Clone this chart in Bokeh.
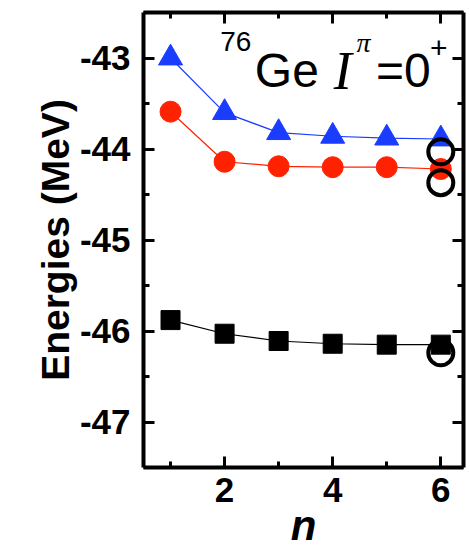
from bokeh.plotting import figure
from bokeh.models import Range1d, LinearAxis, Label, FixedTicker, CustomLabelingPolicy
from bokeh.embed import file_html
from bokeh.resources import INLINE

# ---- data ----
n = [1, 2, 3, 4, 5, 6]
blue_tri = [-43.00, -43.60, -43.82, -43.86, -43.88, -43.89]
red_circ = [-43.59, -44.14, -44.19, -44.20, -44.20, -44.22]
black_sq = [-45.88, -46.03, -46.11, -46.14, -46.15, -46.15]
exact_n = [6, 6, 6]
exact_e = [-44.03, -44.37, -46.24]

x_major = [2, 4, 6]
x_minor = [1, 3, 5]
y_major = [-47, -46, -45, -44, -43]
y_minor = [-47.5, -46.5, -45.5, -44.5, -43.5, -42.5]

FONT = "Liberation Sans"

p = figure(width=470, height=551, output_backend="svg", toolbar_location=None,
           x_range=Range1d(0.5, 6.42), y_range=Range1d(-47.5, -42.5),
           min_border_left=143, min_border_right=7, min_border_top=12,
           min_border_bottom=84)
p.background_fill_color = "white"
p.border_fill_color = "white"
p.outline_line_color = None
p.xgrid.visible = False
p.ygrid.visible = False

xt = FixedTicker(ticks=x_major, minor_ticks=x_minor)
yt = FixedTicker(ticks=y_major, minor_ticks=y_minor)

hide_all = CustomLabelingPolicy(code="""
    for (let i = 0; i < indices.size; i++) { indices.unset(i) }
    return indices
""")


def style(ax, labels=True):
    ax.axis_line_width = 4
    ax.axis_line_color = "black"
    ax.major_tick_in = 11
    ax.major_tick_out = 0
    ax.minor_tick_in = 6
    ax.minor_tick_out = 0
    ax.major_tick_line_width = 3
    ax.minor_tick_line_width = 3
    ax.major_tick_line_color = "black"
    ax.minor_tick_line_color = "black"
    if labels:
        ax.major_label_text_font = FONT
        ax.major_label_text_font_size = "35px"
        ax.major_label_text_font_style = "bold"
        ax.major_label_text_color = "black"
    else:
        ax.major_label_text_font_size = "1px"
        ax.major_label_standoff = 0
        ax.major_label_policy = hide_all


xa = p.xaxis[0]
xa.ticker = xt
style(xa)
xa.major_label_standoff = 10
xa.major_label_overrides = {v: str(v) for v in x_major}
xa.axis_label = "n"
xa.axis_label_text_font = FONT
xa.axis_label_text_font_size = "42px"
xa.axis_label_text_font_style = "bold italic"
xa.axis_label_text_color = "black"
xa.axis_label_standoff = -3

ya = p.yaxis[0]
ya.ticker = yt
style(ya)
ya.major_label_standoff = 13
ya.major_label_overrides = {v: str(v) for v in y_major}
ya.axis_label = "Energies (MeV)"
ya.axis_label_text_font = FONT
ya.axis_label_text_font_size = "39px"
ya.axis_label_text_font_style = "bold"
ya.axis_label_text_color = "black"
ya.axis_label_standoff = 0

ra = LinearAxis(ticker=yt)
style(ra, labels=False)
p.add_layout(ra, "right")
ta = LinearAxis(ticker=xt)
style(ta, labels=False)
p.add_layout(ta, "above")

BLUE = "#1a3cff"
RED = "#ff2200"

p.line(n, blue_tri, line_color=BLUE, line_width=1.2)
p.line(n, red_circ, line_color=RED, line_width=1.2)
p.line(n, black_sq, line_color="black", line_width=1.2)
p.scatter(n, blue_tri, marker="triangle", size=24, fill_color=BLUE, line_color=BLUE)
p.scatter(n, red_circ, marker="circle", size=21, fill_color=RED, line_color=RED)
p.scatter(n, black_sq, marker="square", size=19, fill_color="black", line_color="black")
p.scatter(exact_n, exact_e, marker="circle", size=25, fill_color=None,
          line_color="black", line_width=4)

# annotation: 76Ge I^pi = 0^+
def lab(x, y, t, size, font=FONT, style="normal"):
    p.add_layout(Label(x=x, y=y, text=t, text_font=font, text_font_size=size,
                       text_font_style=style, text_color="black",
                       text_baseline="alphabetic", text_align="left"))

lab(1.92, -42.82, "76", "28px")
lab(2.56, -43.138, "Ge", "48px")
lab(4.02, -43.138, "I", "54px", font="Liberation Serif", style="italic")
lab(4.44, -42.83, "π", "28px", font="Liberation Serif", style="italic")
lab(4.80, -43.138, "=0", "48px")
lab(5.80, -42.89, "+", "30px")

open("out.html", "w").write(file_html(p, INLINE))
